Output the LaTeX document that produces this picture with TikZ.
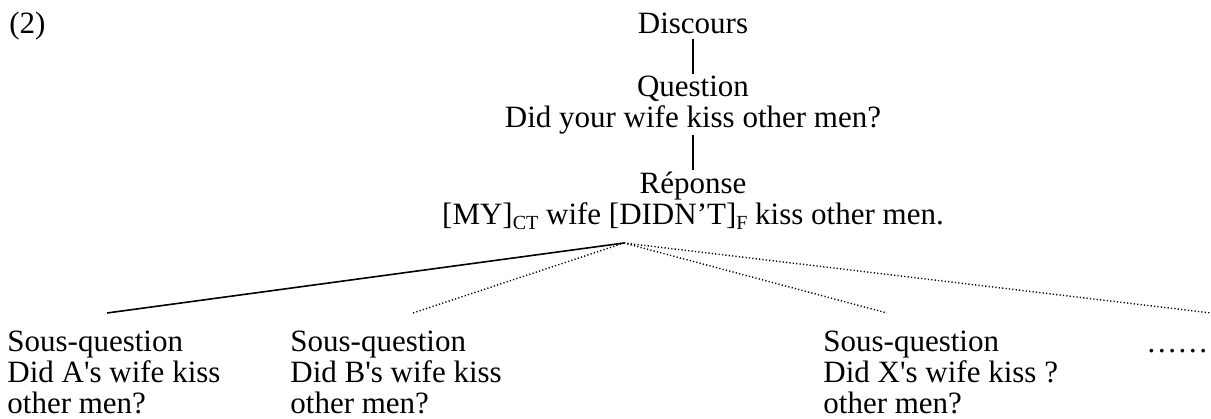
\documentclass[tikz,border=0pt]{standalone}
\usepackage{fontspec}
\setmainfont{Liberation Serif}
\usepackage{tikz}

\newcommand{\lowtag}[1]{\raisebox{-0.3ex}{\fontsize{10}{10}\selectfont #1}}

\begin{document}
\begin{tikzpicture}[x=0.5pt, y=-0.5pt,
                label/.style = {inner sep=0pt, font=\fontsize{15.5}{15.5}\selectfont},
                leg/.style = {line width=0.8pt},
                dotleg/.style = {line width=0.7pt, dash pattern=on 0.6pt off 1.1pt}]
                \useasboundingbox (0,0) rectangle (1211,418);

                \node[label, anchor=base west] (num) at (9,33) {(2)};
                \node[label, anchor=base] (disc) at (693,33) {Discours};
                \node[label, anchor=north, align=center] (quest) at (693,76)
                    {Question\\Did your wife kiss other men?};
                \node[label, anchor=north, align=center] (rep) at (693,172)
                    {Réponse\\{}[MY]\lowtag{CT} wife [DIDN’T]\lowtag{F} kiss other men.};

                \node[label, anchor=north west, align=left] (subA) at (7,331)
                    {Sous-question\\Did A\textquotesingle s wife kiss\\other men?};
                \node[label, anchor=north west, align=left] (subB) at (290,331)
                    {Sous-question\\Did B\textquotesingle s wife kiss\\other men?};
                \node[label, anchor=north west, align=left] (subX) at (823,331)
                    {Sous-question\\Did X\textquotesingle s wife kiss ?\\other men?};
                \node[label, anchor=base west] (more) at (1146,352) {……};

                \coordinate (fan) at (624,243);
                \coordinate (endA) at (107,313);
                \coordinate (endB) at (413,313);
                \coordinate (endX) at (887,313);
                \coordinate (endR) at (1211,313);

                \draw[leg, shorten <=2.5pt, shorten >=1pt] (disc) -- (quest);
                \draw[leg, shorten >=1pt] (quest) -- (rep);
                \draw[leg] (fan) -- (endA);
                \foreach \e in {endB, endX, endR}
                    \draw[dotleg] (fan) -- (\e);
            \end{tikzpicture}
\end{document}
